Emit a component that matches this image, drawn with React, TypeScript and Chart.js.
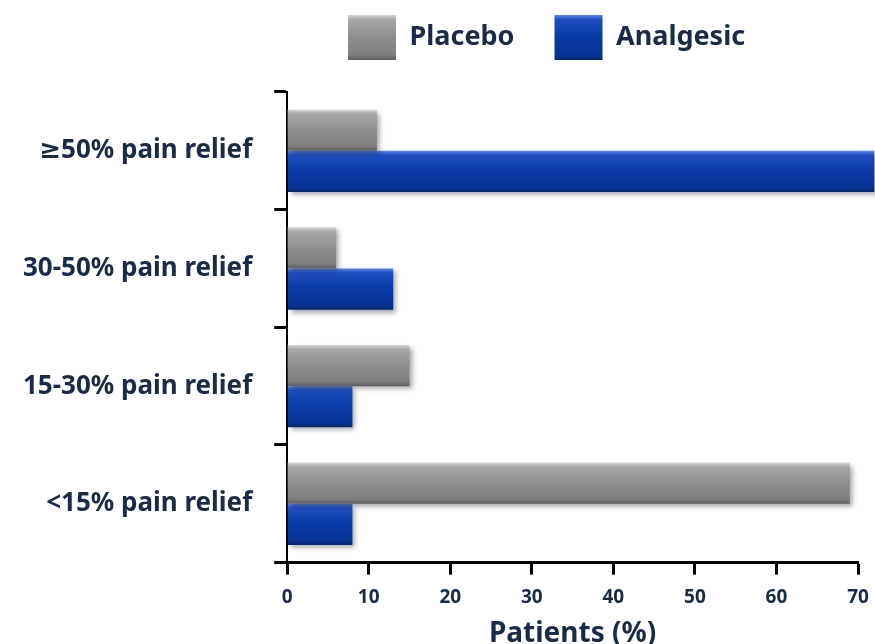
import React, { useEffect, useRef } from "react";
import { Chart, registerables } from "chart.js";

Chart.register(...registerables);

const categories = ["≥50% pain relief", "30-50% pain relief", "15-30% pain relief", "<15% pain relief"];
const seriesNames = ["Placebo", "Analgesic"];
const placeboValues = [11, 6, 15, 69];
const analgesicValues = [72, 13, 8, 8];
const xTicks = [0, 10, 20, 30, 40, 50, 60, 70];
const xTitle = "Patients (%)";

const TEXT = "#1b2a47";
const FONT = "'Noto Sans', 'DejaVu Sans', sans-serif";
const SOLID = ["#8c8c8c", "#0b3aa6"];
const STOPS: [number, string][][] = [
  [[0, "#d8d8d8"], [0.1, "#a8a8a8"], [0.5, "#8e8e8e"], [0.88, "#7e7e7e"], [1, "#5e5e5e"]],
  [[0, "#5a86ea"], [0.1, "#1f4fc0"], [0.5, "#0a3aa6"], [0.88, "#063394"], [1, "#032670"]],
];

const LEGEND_SHIFT_X = -26;
const LEGEND_SHIFT_Y = -25;

function grad(ctx: CanvasRenderingContext2D, top: number, bottom: number, i: number) {
  const g = ctx.createLinearGradient(0, top, 0, bottom);
  STOPS[i].forEach(([o, c]) => g.addColorStop(o, c));
  return g;
}

const bevelPlugin = {
  id: "bevel",
  beforeLayout(chart: any) {
    const lg = chart.legend;
    if (lg && !lg._patched) {
      const orig = lg.fit.bind(lg);
      lg.fit = () => {
        orig();
        lg.height -= 3;
      };
      lg._patched = true;
    }
  },
  beforeDraw(chart: any) {
    const lg = chart.legend;
    if (lg && lg.legendItems) {
      lg.left += LEGEND_SHIFT_X;
      lg.right += LEGEND_SHIFT_X;
      lg.top += LEGEND_SHIFT_Y;
      lg.bottom += LEGEND_SHIFT_Y;
      const boxH = lg.options.labels.boxHeight;
      lg.legendItems.forEach((item: any, i: number) => {
        const top = lg.top + lg.options.labels.padding;
        item.fillStyle = grad(chart.ctx, top, top + boxH, i);
      });
    }
  },
  afterDraw(chart: any) {
    const lg = chart.legend;
    if (lg) {
      lg.left -= LEGEND_SHIFT_X;
      lg.right -= LEGEND_SHIFT_X;
      lg.top -= LEGEND_SHIFT_Y;
      lg.bottom -= LEGEND_SHIFT_Y;
    }
  },
  beforeDatasetDraw(chart: any, args: any) {
    const ctx = chart.ctx;
    args.meta.data.forEach((el: any) => {
      const top = el.y - el.height / 2;
      const bottom = el.y + el.height / 2;
      el.options.backgroundColor = grad(ctx, top, bottom, args.index);
    });
    ctx.save();
    ctx.shadowColor = "rgba(0,0,0,0.35)";
    ctx.shadowBlur = 5;
    ctx.shadowOffsetX = 3;
    ctx.shadowOffsetY = 3;
  },
  afterDatasetDraw(chart: any) {
    chart.ctx.restore();
  },
};

export default function App() {
  const ref = useRef<HTMLCanvasElement | null>(null);
  useEffect(() => {
    if (!ref.current) return;
    Chart.defaults.font.family = FONT;
    const chart = new Chart(ref.current, {
      type: "bar",
      data: {
        labels: categories,
        datasets: [
          {
            label: seriesNames[0],
            data: placeboValues,
            backgroundColor: (c: any) => SOLID[c.datasetIndex],
            borderWidth: 0,
            categoryPercentage: 0.7,
            barPercentage: 1.0,
            clip: false as any,
          },
          {
            label: seriesNames[1],
            data: analgesicValues,
            backgroundColor: (c: any) => SOLID[c.datasetIndex],
            borderWidth: 0,
            categoryPercentage: 0.7,
            barPercentage: 1.0,
            clip: false as any,
          },
        ],
      },
      options: {
        indexAxis: "y",
        animation: false,
        responsive: false,
        devicePixelRatio: 1,
        layout: { padding: { left: 1, right: 0, top: 0, bottom: 0 } },
        plugins: {
          tooltip: { enabled: false },
          legend: {
            position: "top",
            fullSize: false,
            labels: {
              boxWidth: 48,
              boxHeight: 45,
              padding: 40,
              color: TEXT,
              font: { family: FONT, size: 27, weight: "bold" },
            },
          },
        },
        scales: {
          x: {
            min: 0,
            max: 70,
            afterBuildTicks: (axis: any) => {
              axis.ticks = xTicks.map((v) => ({ value: v }));
            },
            afterFit: (axis: any) => {
              axis.paddingRight = 17;
            },
            grid: {
              drawOnChartArea: false,
              drawTicks: true,
              tickLength: 12,
              tickWidth: 3,
              tickColor: "#000",
            },
            border: { display: true, color: "#000", width: 3 },
            ticks: {
              color: TEXT,
              padding: 12,
              maxRotation: 0,
              font: { family: FONT, size: 19, weight: "bold" },
            },
            title: {
              display: true,
              text: xTitle,
              color: TEXT,
              padding: { top: -4, bottom: -7 },
              font: { family: FONT, size: 28, weight: "bold" },
            },
          },
          y: {
            grid: {
              drawOnChartArea: false,
              drawTicks: true,
              tickLength: 13,
              tickWidth: 3,
              tickColor: "#000",
              offset: true,
            },
            border: { display: true, color: "#000", width: 2 },
            ticks: {
              color: TEXT,
              padding: 22,
              font: { family: FONT, size: 26, weight: "bold" },
            },
          },
        },
      },
      plugins: [bevelPlugin],
    } as any);
    return () => chart.destroy();
  }, []);
  return (
    <div style={{ position: "absolute", left: 0, top: 0, width: 875, height: 644 }}>
      <canvas ref={ref} width={875} height={644} style={{ display: "block" }} />
    </div>
  );
}
